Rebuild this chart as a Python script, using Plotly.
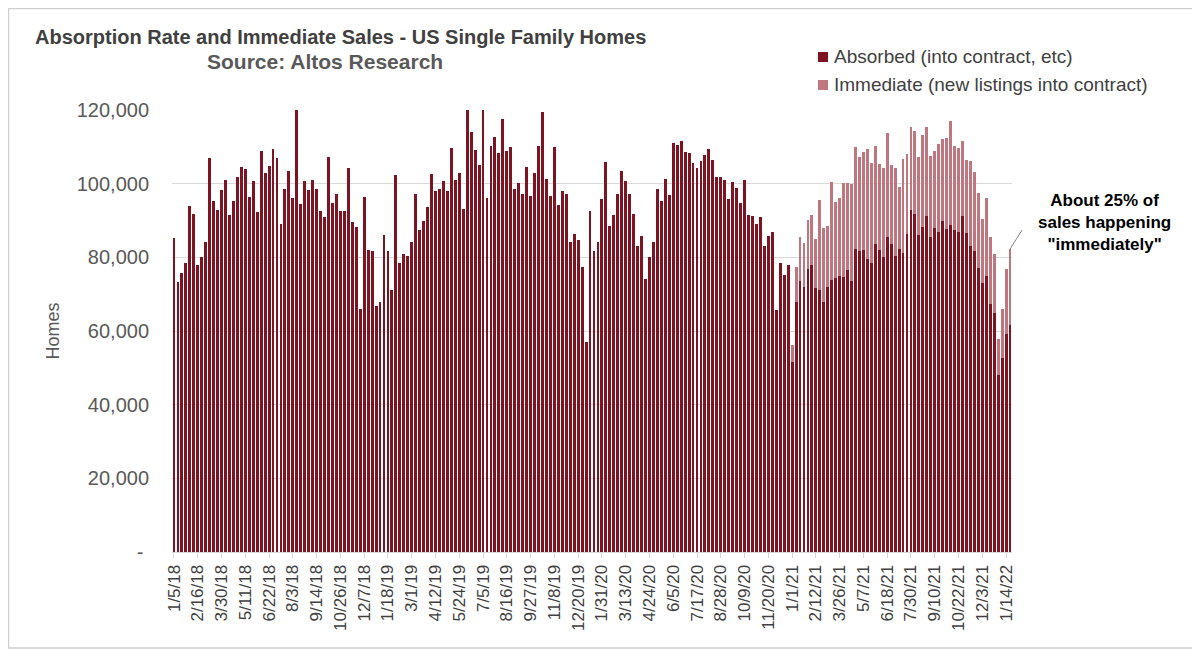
import pandas as pd
import plotly.graph_objects as go

# ---- data (weekly, 1/5/18 .. 1/21/22) ----
week_dates = pd.date_range("2018-01-05", periods=212, freq="7D")
categories = [f"{d.month}/{d.day}/{d.year % 100}" for d in week_dates]

absorbed = [
    85200, 73400, 75700, 78550, 93900, 91850, 78000, 80000, 84300, 106900,
    95300, 92850, 98300, 101000, 91400, 95400, 101800, 104500, 103900, 96400,
    100800, 92300, 109000, 103000, 104800, 109300, 106900, 89050, 98650, 103500,
    96100, 120000, 94500, 100800, 98300, 100900, 98650, 92700, 90850, 107300,
    94850, 97100, 92700, 92700, 104350, 89600, 88300, 65900, 96500, 82000,
    81800, 66700, 67900, 86150, 81650, 71050, 102350, 78550, 81000, 80450,
    84050, 97300, 87500, 89950, 93750, 102700, 97900, 98450, 100650, 97900,
    109600, 100900, 102800, 93100, 120000, 114000, 109200, 105000, 120000, 96100,
    110200, 112750, 108250, 117550, 108850, 109950, 98450, 100100, 97200, 104450,
    96550, 102900, 110300, 119450, 101350, 96550, 110050, 94200, 98000, 97200,
    84300, 86350, 84600, 77450, 56900, 92500, 81650, 84300, 95850, 105800,
    88400, 91600, 97300, 103500, 100800, 97300, 91750, 83150, 85700, 74050,
    80100, 84300, 98450, 95200, 101200, 96850, 110950, 110400, 111650, 108500,
    108250, 105500, 104150, 106250, 107800, 109300, 106350, 101700, 101700, 100900,
    95950, 100350, 98900, 94850, 100900, 91600, 91150, 89050, 90850, 83150,
    85700, 86800, 65700, 78350, 75100, 78000, 51600, 67950, 73650, 71950,
    76850, 77900, 71600, 71050, 67950, 71950, 73750, 74300, 75000, 74650,
    76550, 73550, 82350, 81800, 81900, 79650, 78550, 83600, 81900, 80200,
    85500, 83700, 80350, 82350, 81200, 86250, 92850, 91750, 86150, 88300,
    91200, 85600, 87850, 86800, 89950, 87600, 88700, 87400, 86950, 91150,
    86700, 83150, 81650, 77100, 73100, 75000, 67350, 65000, 47950, 52600,
    59200, 61700,
]

immediate = [None] * 156 + [
    4500, 9500, 11850, 11850, 13350, 13600, 13450, 24450, 20000, 16650,
    26700, 20700, 21200, 25450, 23550, 26450, 27600, 25550, 26600, 29650,
    27050, 26700, 23350, 23950, 28150, 21350, 24000, 16650, 25400, 21700,
    22600, 22650, 21200, 24900, 24200, 22000, 21000, 23900, 22150, 24700,
    28400, 22750, 22750, 20500, 19800, 22900, 21500, 20300, 17400, 21000,
    18250, 16000, 9950, 13400, 17700, 20550,
]

tick_labels = [
    "1/5/18", "2/16/18", "3/30/18", "5/11/18", "6/22/18", "8/3/18", "9/14/18",
    "10/26/18", "12/7/18", "1/18/19", "3/1/19", "4/12/19", "5/24/19", "7/5/19",
    "8/16/19", "9/27/19", "11/8/19", "12/20/19", "1/31/20", "3/13/20", "4/24/20",
    "6/5/20", "7/17/20", "8/28/20", "10/9/20", "11/20/20", "1/1/21", "2/12/21",
    "3/26/21", "5/7/21", "6/18/21", "7/30/21", "9/10/21", "10/22/21", "12/3/21",
    "1/14/22",
]

y_ticks = [0, 20000, 40000, 60000, 80000, 100000, 120000]
y_tick_text = ["-\u00a0", "20,000", "40,000", "60,000", "80,000", "100,000", "120,000"]

DARK = "#7E1322"
LIGHT = "#C0767F"
TXT = "#404040"
AX = "#595959"
BODY_FONT = "Liberation Sans, Arial, sans-serif"

# page offset (browser body margin) and plot geometry, in page pixels
OFF = 8
W, H = 1200 - OFF, 650 - OFF
PL, PR, PT, PB = 172, 1012, 110, 552           # plot area edges on the page
ML, MR, MT, MB = PL - OFF, W - (PR - OFF), PT - OFF, H - (PB - OFF)
PW, PH = PR - PL, PB - PT


def px(xp):
    return (xp - PL) / PW


def py(yp):
    return (PB - yp) / PH


fig = go.Figure()
fig.add_trace(go.Bar(x=categories, y=absorbed, name="Absorbed (into contract, etc)",
                     marker=dict(color=DARK, line=dict(width=0)), showlegend=False))
fig.add_trace(go.Bar(x=categories, y=immediate, name="Immediate (new listings into contract)",
                     marker=dict(color=LIGHT, line=dict(width=0)), showlegend=False))

fig.update_layout(
    width=W, height=H,
    margin=dict(l=ML, r=MR, t=MT, b=MB),
    barmode="stack", bargap=0.27,
    paper_bgcolor="white", plot_bgcolor="white",
    font=dict(family=BODY_FONT, color=TXT),
    xaxis=dict(type="category", tickmode="array", tickvals=tick_labels, ticktext=tick_labels,
               tickangle=-90, tickfont=dict(size=17, color=TXT, family=BODY_FONT),
               showgrid=False, showline=True, linecolor="#D9D9D9", linewidth=1,
               ticks="outside", ticklen=5, tickcolor="#D9D9D9"),
    yaxis=dict(range=[0, 120000], tickmode="array", tickvals=y_ticks, ticktext=y_tick_text,
               tickfont=dict(size=20, color=AX, family=BODY_FONT),
               showgrid=True, gridcolor="#D9D9D9", gridwidth=1, zeroline=False,
               showline=False, ticks="", ticklabelstandoff=22,
               title=dict(text="Homes", font=dict(size=18, color=AX, family=BODY_FONT),
                          standoff=12)),
)

anns = [
    dict(text="<b>Absorption Rate and Immediate Sales - US Single Family Homes</b>",
         x=px(33), y=py(37), xanchor="left", yanchor="middle",
         font=dict(size=20, color=TXT)),
    dict(text="<b>Source: Altos Research</b>",
         x=px(325), y=py(62), xanchor="center", yanchor="middle",
         font=dict(size=21, color=AX)),
    dict(text="Absorbed (into contract, etc)", x=px(832), y=py(57),
         xanchor="left", yanchor="middle", font=dict(size=19, color=TXT)),
    dict(text="Immediate (new listings into contract)", x=px(832), y=py(85),
         xanchor="left", yanchor="middle", font=dict(size=19, color=TXT)),
    dict(text="<b>About 25% of<br>sales happening<br>\"immediately\"</b>",
         x=px(1104), y=py(222), xanchor="center", yanchor="middle",
         font=dict(size=17, color="#000000")),
]
for a in anns:
    a.update(xref="paper", yref="paper", showarrow=False)
fig.update_layout(annotations=anns)

shapes = [
    dict(type="rect", xref="paper", yref="paper", x0=px(818), x1=px(828), y0=py(52), y1=py(62),
         fillcolor=DARK, line=dict(width=0)),
    dict(type="rect", xref="paper", yref="paper", x0=px(818), x1=px(828), y0=py(80), y1=py(90),
         fillcolor=LIGHT, line=dict(width=0)),
    dict(type="line", xref="paper", yref="y", x0=(len(categories) - 0.5) / len(categories),
         y0=absorbed[-1] + immediate[-1], x1=px(1022), y1=87400,
         line=dict(color="#808080", width=1)),
    dict(type="rect", xref="paper", yref="paper", x0=px(OFF + 0.5), x1=px(1199), y0=py(OFF + 0.5),
         y1=py(648), line=dict(color="#D0D0D0", width=1.5), fillcolor="rgba(0,0,0,0)",
         layer="below"),
]
fig.update_layout(shapes=shapes)

fig.write_html("out.html")
